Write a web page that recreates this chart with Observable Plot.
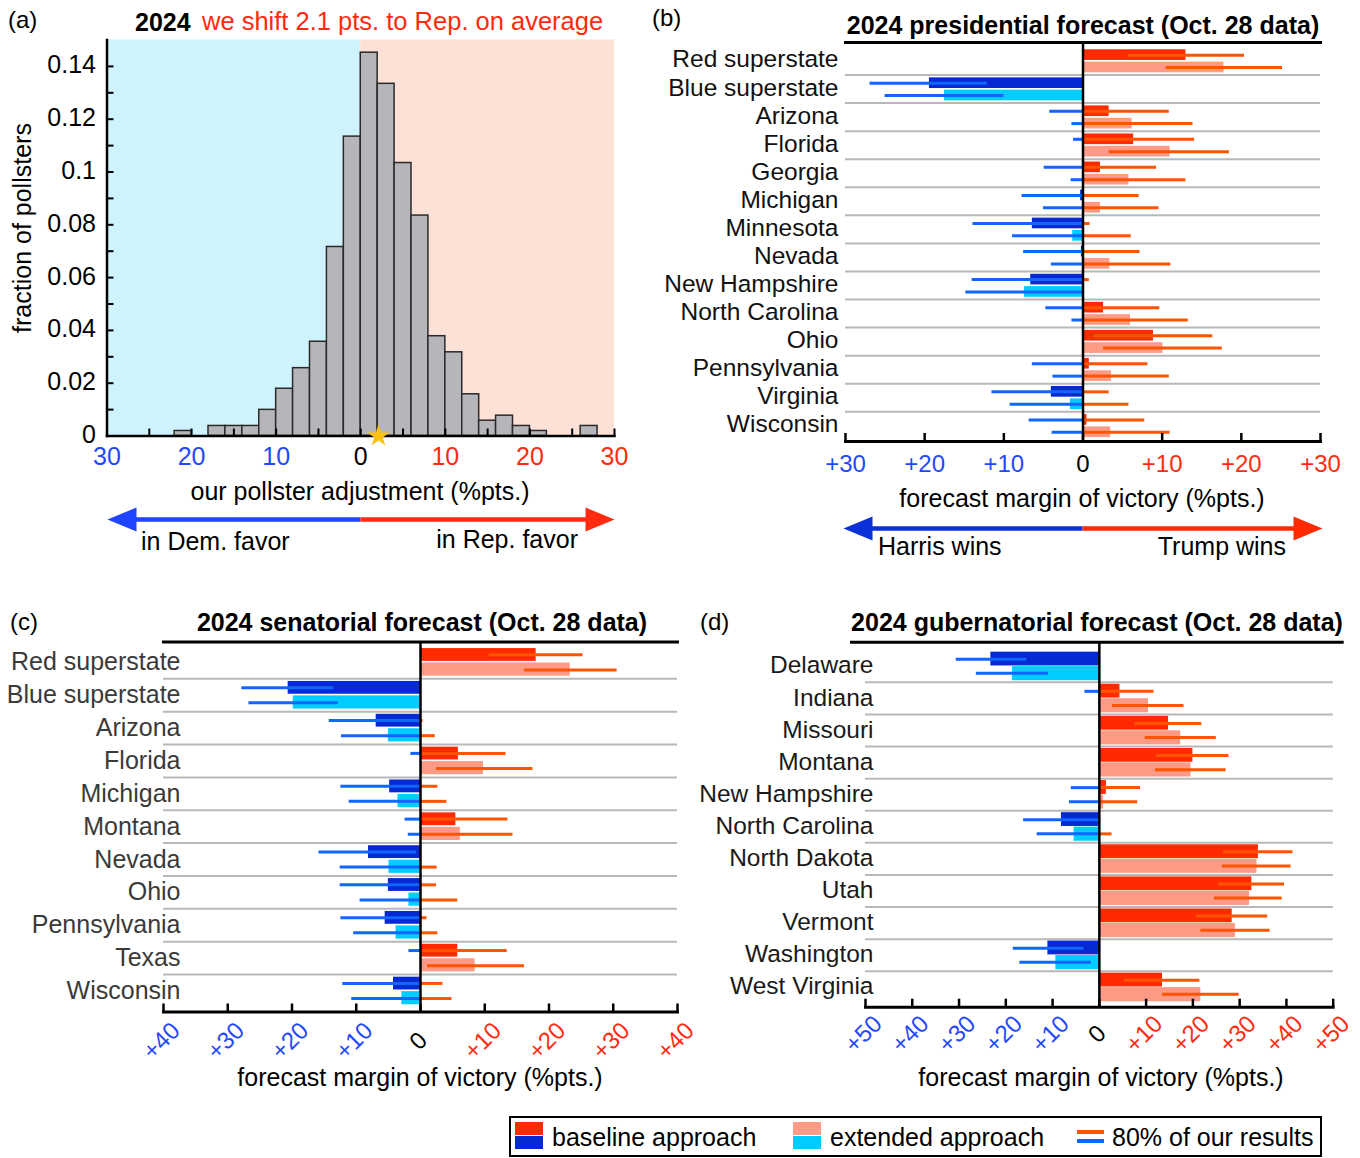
<!DOCTYPE html>
<html>
<head>
<meta charset="utf-8">
<script src="https://cdn.jsdelivr.net/npm/d3@7"></script>
<script src="https://cdn.jsdelivr.net/npm/@observablehq/plot@0.6"></script>
<style>
  body { margin: 0; background: #fff; }
  #root { position: relative; width: 1360px; height: 1158px; overflow: hidden; font-family: "Liberation Sans", Arial, Helvetica, sans-serif; }
  #root svg { position: absolute; }
</style>
</head>
<body>
<div id="root"></div>
<script>
// ---------------- DATA ----------------
// (a) histogram of pollster adjustments (bin left edges, width 2 pts.)
const histLeft = [-30,-28,-26,-24,-22,-20,-18,-16,-14,-12,-10,-8,-6,-4,-2,0,2,4,6,8,10,12,14,16,18,20,22,24,26,28];
const histFraction = [0,0,0,0,0.0019,0,0.0038,0.0038,0.0038,0.0099,0.0179,0.0257,0.0357,0.0716,0.1134,0.1452,0.1334,0.1034,0.0835,0.0378,0.0317,0.0158,0.0058,0.0077,0.0038,0.0019,0,0,0.0038,0];
const histBinWidth = 2;
const avgShift = 2.1;
const histXTickLabels = [-30,-20,-10,0,10,20,30];
const histXTicks = [-30,-25,-20,-15,-10,-5,0,5,10,15,20,25,30];
const histYTickLabels = [0,0.02,0.04,0.06,0.08,0.1,0.12,0.14];
const histYTicks = [0,0.01,0.02,0.03,0.04,0.05,0.06,0.07,0.08,0.09,0.1,0.11,0.12,0.13,0.14];

// (b) presidential forecast
const presStates = ["Red superstate","Blue superstate","Arizona","Florida","Georgia","Michigan","Minnesota","Nevada","New Hampshire","North Carolina","Ohio","Pennsylvania","Virginia","Wisconsin"];
const presBase   = [13.0,-19.4, 3.3, 6.4, 2.2,-0.3,-6.4,-0.2,-6.6, 2.6, 8.9, 0.8,-4.0, 0.5];
const presBaseLo = [ 5.7,-26.9,-4.2,-1.2,-4.9,-7.7,-13.9,-7.5,-14.0,-4.7, 1.4,-6.4,-11.5,-6.8];
const presBaseHi = [20.4,-12.1,10.9,14.1, 9.3, 7.1, 0.9, 7.2, 0.8, 9.7,16.4, 8.2, 3.3, 7.8];
const presExt    = [17.8,-17.5, 6.2,11.0, 5.8, 2.2,-1.3, 3.4,-7.4, 6.0,10.1, 3.6,-1.6, 3.5];
const presExtLo  = [10.5,-25.0,-1.4, 3.3,-1.5,-5.0,-8.9,-4.0,-14.8,-1.4, 2.6,-3.8,-9.2,-3.9];
const presExtHi  = [25.2,-10.0,13.9,18.5,13.0, 9.6, 6.1,11.1, 0.1,13.3,17.6,10.9, 5.8,11.0];
const presTicks  = [-30,-20,-10,0,10,20,30];

// (c) senatorial forecast
const senStates = ["Red superstate","Blue superstate","Arizona","Florida","Michigan","Montana","Nevada","Ohio","Pennsylvania","Texas","Wisconsin"];
const senBase   = [18.0,-20.6,-6.9, 5.9,-4.8, 5.5,-8.1,-5.0,-5.5, 5.8,-4.2];
const senBaseLo = [10.7,-27.8,-14.2,-1.5,-12.4,-2.4,-15.8,-12.5,-12.4,-1.8,-12.1];
const senBaseHi = [25.3,-13.5, 0.4,13.3, 2.7,13.6,-0.6, 2.5, 1.0,13.5, 3.5];
const senExt    = [23.3,-19.8,-5.0, 9.8,-3.5, 6.2,-4.9,-1.8,-3.8, 8.5,-2.9];
const senExtLo  = [16.2,-26.7,-12.3, 2.5,-11.1,-1.9,-12.5,-9.4,-10.4, 1.1,-10.7];
const senExtHi  = [30.6,-12.8, 2.3,17.5, 4.1,14.4, 2.6, 5.8, 2.7,16.2, 4.9];
const senTicks  = [-40,-30,-20,-10,0,10,20,30,40];

// (d) gubernatorial forecast
const govStates = ["Delaware","Indiana","Missouri","Montana","New Hampshire","North Carolina","North Dakota","Utah","Vermont","Washington","West Virginia"];
const govBase   = [-23.2, 4.4,14.8,20.0, 1.5,-8.1,34.0,32.6,28.4,-11.0,13.5];
const govBaseLo = [-30.6,-3.1, 7.6,12.3,-6.0,-16.2,26.5,25.5,20.8,-18.4, 5.3];
const govBaseHi = [-15.5,11.7,21.9,27.7, 8.8, 0.3,41.4,39.6,36.0,-3.3,21.5];
const govExt    = [-18.6,10.5,17.4,19.6, 0.9,-5.4,33.7,32.1,29.1,-9.3,21.7];
const govExtLo  = [-26.3, 2.8, 9.8,12.0,-6.4,-13.3,26.3,24.6,21.7,-17.0,13.5];
const govExtHi  = [-10.9,18.1,25.0,27.1, 8.2, 2.7,41.0,39.1,36.5,-1.7,29.9];
const govTicks  = [-50,-40,-30,-20,-10,0,10,20,30,40,50];

// ---------------- STYLE ----------------
const FONT = '"Liberation Sans", Arial, Helvetica, sans-serif';
const C = {
  baseR: "#ff2a00", baseB: "#0629d3",
  extR: "#ff9a86", extB: "#00ccff",
  errB: "#1166ff", errR: "#ff5500",
  sep: "#b8b8b8",
  tickB: "#1f48ff", tickR: "#ff2b0e",
  bgB: "#cff3fc", bgR: "#fde0d6",
  hist: "#b6b5b9"
};
const root = document.getElementById("root");
function place(node, left, top) {
  node.style.position = "absolute";
  node.style.left = left + "px";
  node.style.top = top + "px";
  root.appendChild(node);
}
function label(text, x, y, o = {}) {
  const d = document.createElement("div");
  d.textContent = text;
  const ax = o.anchor === "start" ? "0" : o.anchor === "end" ? "-100%" : "-50%";
  Object.assign(d.style, {
    position: "absolute", left: x + "px", top: y + "px",
    transform: `translate(${ax},-50%)` + (o.rotate ? ` rotate(${o.rotate}deg)` : ""),
    fontSize: (o.size || 25) + "px", fontWeight: o.weight || "normal",
    color: o.color || "#000", whiteSpace: "nowrap", fontFamily: FONT, lineHeight: "1"
  });
  root.appendChild(d);
}
const baseStyle = {fontFamily: FONT, background: "transparent", overflow: "visible"};

// ---------------- PANEL (a) ----------------
const histData = histLeft.map((l, i) => ({l, f: histFraction[i]})).filter(d => d.f > 0);
const bgSides = [{x1: -30, x2: 0, fill: C.bgB}, {x1: 0, x2: 30, fill: C.bgR}];
{
  const W = 640, H = 440, ml = 106.5, mr = 26, mt = 9.5, mb = 34.5;
  const fw = W - ml - mr, fh = H - mt - mb;
  const pa = Plot.plot({
    width: W, height: H, marginLeft: ml, marginRight: mr, marginTop: mt, marginBottom: mb,
    x: {domain: [-30, 30], axis: null},
    y: {domain: [0, 0.15], axis: null},
    color: {type: "identity"},
    style: baseStyle,
    marks: [
      Plot.rect(bgSides, {x1: d => d.x1, x2: d => d.x2, fill: d => d.fill}),
      Plot.rect(histData, {x1: d => d.l, x2: d => d.l + histBinWidth, y1: 0, y2: d => d.f, fill: C.hist, stroke: "#2a2a2a", strokeWidth: 1.5}),
      Plot.tickX(histXTicks, {x: d => d, insetTop: fh - 7, strokeWidth: 2}),
      Plot.tickY(histYTicks, {y: d => d, insetRight: fw - 7, strokeWidth: 2}),
      Plot.frame({anchor: "left", strokeWidth: 2.5}),
      Plot.frame({anchor: "bottom", strokeWidth: 2.5}),
      Plot.text(histYTickLabels, {y: d => d, frameAnchor: "left", textAnchor: "end", lineAnchor: "middle", dx: -11, dy: -1, text: d => String(d), fontSize: 25, fill: "#000"}),
      Plot.text(histXTickLabels, {x: d => d, frameAnchor: "bottom", lineAnchor: "middle", dy: 21, text: d => String(Math.abs(d)), fontSize: 25,
        fill: d => d < 0 ? C.tickB : d > 0 ? C.tickR : "#000"}),
      Plot.dot([avgShift], {x: d => d, y: 0, symbol: "star", r: 7, fill: "#fcc213"})
    ]
  });
  place(pa, 0, 30);
}
label("(a)", 8, 20, {anchor: "start", size: 24});
label("2024", 135, 22, {anchor: "start", weight: "bold"});
label("we shift 2.1 pts. to Rep. on average", 202, 22, {anchor: "start", color: "#ff2a0e", size: 25.5});
label("fraction of pollsters", 22, 228, {rotate: -90});
label("our pollster adjustment (%pts.)", 360, 491);
label("in Dem. favor", 141, 541, {anchor: "start"});
label("in Rep. favor", 578, 539, {anchor: "end"});

// ---------------- ARROWS ----------------
const headL = {draw(ctx) { ctx.moveTo(0, 0); ctx.lineTo(29, -12); ctx.lineTo(29, 12); ctx.closePath(); }};
const headR = {draw(ctx) { ctx.moveTo(0, 0); ctx.lineTo(-29, -12); ctx.lineTo(-29, 12); ctx.closePath(); }};
function arrowPlot(o) {
  return Plot.plot({
    width: o.width, height: 40, marginLeft: o.ml, marginRight: o.mr, marginTop: 0, marginBottom: 0,
    x: {domain: [-o.xMax, o.xMax], axis: null}, y: {domain: [-1, 1], axis: null},
    style: baseStyle,
    marks: [
      Plot.ruleY([0], {x1: -o.xMax * 0.9, x2: 0, stroke: o.blue, strokeWidth: 4.5}),
      Plot.ruleY([0], {x1: 0, x2: o.xMax * 0.9, stroke: o.red, strokeWidth: 4.5}),
      Plot.dot([-o.xMax], {x: d => d, y: 0, symbol: headL, r: 5, fill: o.blue}),
      Plot.dot([o.xMax], {x: d => d, y: 0, symbol: headR, r: 5, fill: o.red})
    ]
  });
}
place(arrowPlot({width: 640, ml: 107, mr: 26, xMax: 30, blue: "#1e44ff", red: "#ff2a10"}), 0, 499);
place(arrowPlot({width: 520, ml: 13, mr: 28, xMax: 30, blue: "#0b2fd8", red: "#ff2a00"}), 830, 508);

// ---------------- FORECAST PANELS ----------------
function forecast(p) {
  const n = p.states.length;
  const bars = [], errs = [];
  const addErr = (lo, hi, y) => {
    if (lo < 0) errs.push({lo, hi: Math.min(hi, 0), y, stroke: C.errB});
    if (hi > 0) errs.push({lo: Math.max(lo, 0), hi, y, stroke: C.errR});
  };
  p.states.forEach((s, i) => {
    bars.push({v: p.base[i], y1: i + p.bb[0], y2: i + p.bb[1], fill: p.base[i] >= 0 ? C.baseR : C.baseB});
    bars.push({v: p.ext[i], y1: i + p.eb[0], y2: i + p.eb[1], fill: p.ext[i] >= 0 ? C.extR : C.extB});
    addErr(p.baseLo[i], p.baseHi[i], i + p.be);
    addErr(p.extLo[i], p.extHi[i], i + p.ee);
  });
  const seps = p.states.slice(1).map((s, i) => i + 1);
  const fh = p.height - p.mt - p.mb;
  const xMax = p.ticks[p.ticks.length - 1];
  return Plot.plot({
    width: p.width, height: p.height,
    marginLeft: p.ml, marginRight: p.mr, marginTop: p.mt, marginBottom: p.mb,
    x: {domain: [-xMax, xMax], axis: null},
    y: {domain: p.yDomain, range: [p.mt, p.height - p.mb], axis: null},
    color: {type: "identity"},
    style: baseStyle,
    marks: [
      Plot.ruleY(seps, {y: d => d, stroke: C.sep, strokeWidth: 2}),
      Plot.rect(bars, {x1: 0, x2: d => d.v, y1: d => d.y1, y2: d => d.y2, fill: d => d.fill}),
      Plot.ruleY(errs, {y: d => d.y, x1: d => d.lo, x2: d => d.hi, stroke: d => d.stroke, strokeWidth: 3}),
      Plot.ruleX([0], {stroke: "#000", strokeWidth: 2.5}),
      Plot.frame({anchor: "top", strokeWidth: 3, insetLeft: p.topExtL || 0, insetRight: p.topExtR || 0}),
      Plot.frame({anchor: "bottom", strokeWidth: 3}),
      Plot.tickX(p.ticks, {x: d => d, insetTop: fh - 8, strokeWidth: 2.5}),
      Plot.text(p.ticks, {x: d => d, frameAnchor: "bottom", lineAnchor: "middle", dy: p.tickDy, dx: p.tickDx || 0, rotate: p.rotate || 0,
        text: d => d === 0 ? "0" : "+" + Math.abs(d), fontSize: 24,
        fill: d => d < 0 ? C.tickB : d > 0 ? C.tickR : "#000"}),
      Plot.text(p.states, {y: (d, i) => i + p.lab, frameAnchor: "left", textAnchor: "end", lineAnchor: "middle", dx: p.labDx,
        text: d => d, fontSize: p.labSize, fill: p.labColor})
    ]
  });
}

// (b)
place(forecast({
  states: presStates, base: presBase, baseLo: presBaseLo, baseHi: presBaseHi, ext: presExt, extLo: presExtLo, extHi: presExtHi,
  ticks: presTicks, width: 710, height: 450, ml: 205, mr: 30, mt: 12, mb: 39,
  yDomain: [-0.16, 14.06], bb: [0.1, 0.48], eb: [0.54, 0.92], be: 0.29, ee: 0.73,
  tickDy: 23, lab: 0.45, labDx: -7, labColor: "#111", labSize: 24.5
}), 640, 30);
label("(b)", 652, 18, {anchor: "start", size: 24});
label("2024 presidential forecast (Oct. 28 data)", 1083, 25, {weight: "bold"});
label("forecast margin of victory (%pts.)", 1082, 498);
label("Harris wins", 878, 546, {anchor: "start"});
label("Trump wins", 1286, 546, {anchor: "end"});

// (c)
place(forecast({
  states: senStates, base: senBase, baseLo: senBaseLo, baseHi: senBaseHi, ext: senExt, extLo: senExtLo, extHi: senExtHi,
  ticks: senTicks, width: 700, height: 480, ml: 163, mr: 23, mt: 41.5, mb: 68.5,
  yDomain: [-0.12, 11.14], bb: [0.08, 0.47], eb: [0.52, 0.92], be: 0.27, ee: 0.73,
  tickDy: 29, tickDx: -2, rotate: -45, lab: 0.5, labDx: 17, labColor: "#3a3a3a", labSize: 25
}), 0, 600);
label("(c)", 10, 622, {anchor: "start", size: 24});
label("2024 senatorial forecast (Oct. 28 data)", 422, 622, {weight: "bold"});
label("forecast margin of victory (%pts.)", 420, 1077);

// (d)
place(forecast({
  states: govStates, base: govBase, baseLo: govBaseLo, baseHi: govBaseHi, ext: govExt, extLo: govExtLo, extHi: govExtHi,
  ticks: govTicks, width: 670, height: 480, ml: 175, mr: 27.3, mt: 41.7, mb: 73.3,
  yDomain: [-0.25, 11.12], bb: [0.06, 0.49], eb: [0.51, 0.95], be: 0.28, ee: 0.72,
  tickDy: 27, tickDx: -2, rotate: -45, lab: 0.48, labDx: 8, labColor: "#1a1a1a", labSize: 24.5,
  topExtL: -14, topExtR: -9
}), 690, 600);
label("(d)", 700, 622, {anchor: "start", size: 24});
label("2024 gubernatorial forecast (Oct. 28 data)", 1097, 622, {weight: "bold"});
label("forecast margin of victory (%pts.)", 1101, 1077);

// ---------------- LEGEND ----------------
{
  const box = document.createElement("div");
  Object.assign(box.style, {position: "absolute", left: "509px", top: "1116px", width: "809px", height: "37px", border: "2px solid #000", background: "#fff"});
  root.appendChild(box);
  const sw = (x, top, bottom) => {
    [[top, 1122], [bottom, 1136]].forEach(([c, y]) => {
      const s = document.createElement("div");
      Object.assign(s.style, {position: "absolute", left: x + "px", top: y + "px", width: "28px", height: "13px", background: c});
      root.appendChild(s);
    });
  };
  sw(515, C.baseR, C.baseB);
  sw(793, C.extR, C.extB);
  [[C.errR, 1130], [C.errB, 1139]].forEach(([c, y]) => {
    const s = document.createElement("div");
    Object.assign(s.style, {position: "absolute", left: "1077px", top: y + "px", width: "27px", height: "4px", background: c});
    root.appendChild(s);
  });
  label("baseline approach", 552, 1137, {anchor: "start"});
  label("extended approach", 830, 1137, {anchor: "start"});
  label("80% of our results", 1112, 1137, {anchor: "start"});
}
</script>
</body>
</html>
